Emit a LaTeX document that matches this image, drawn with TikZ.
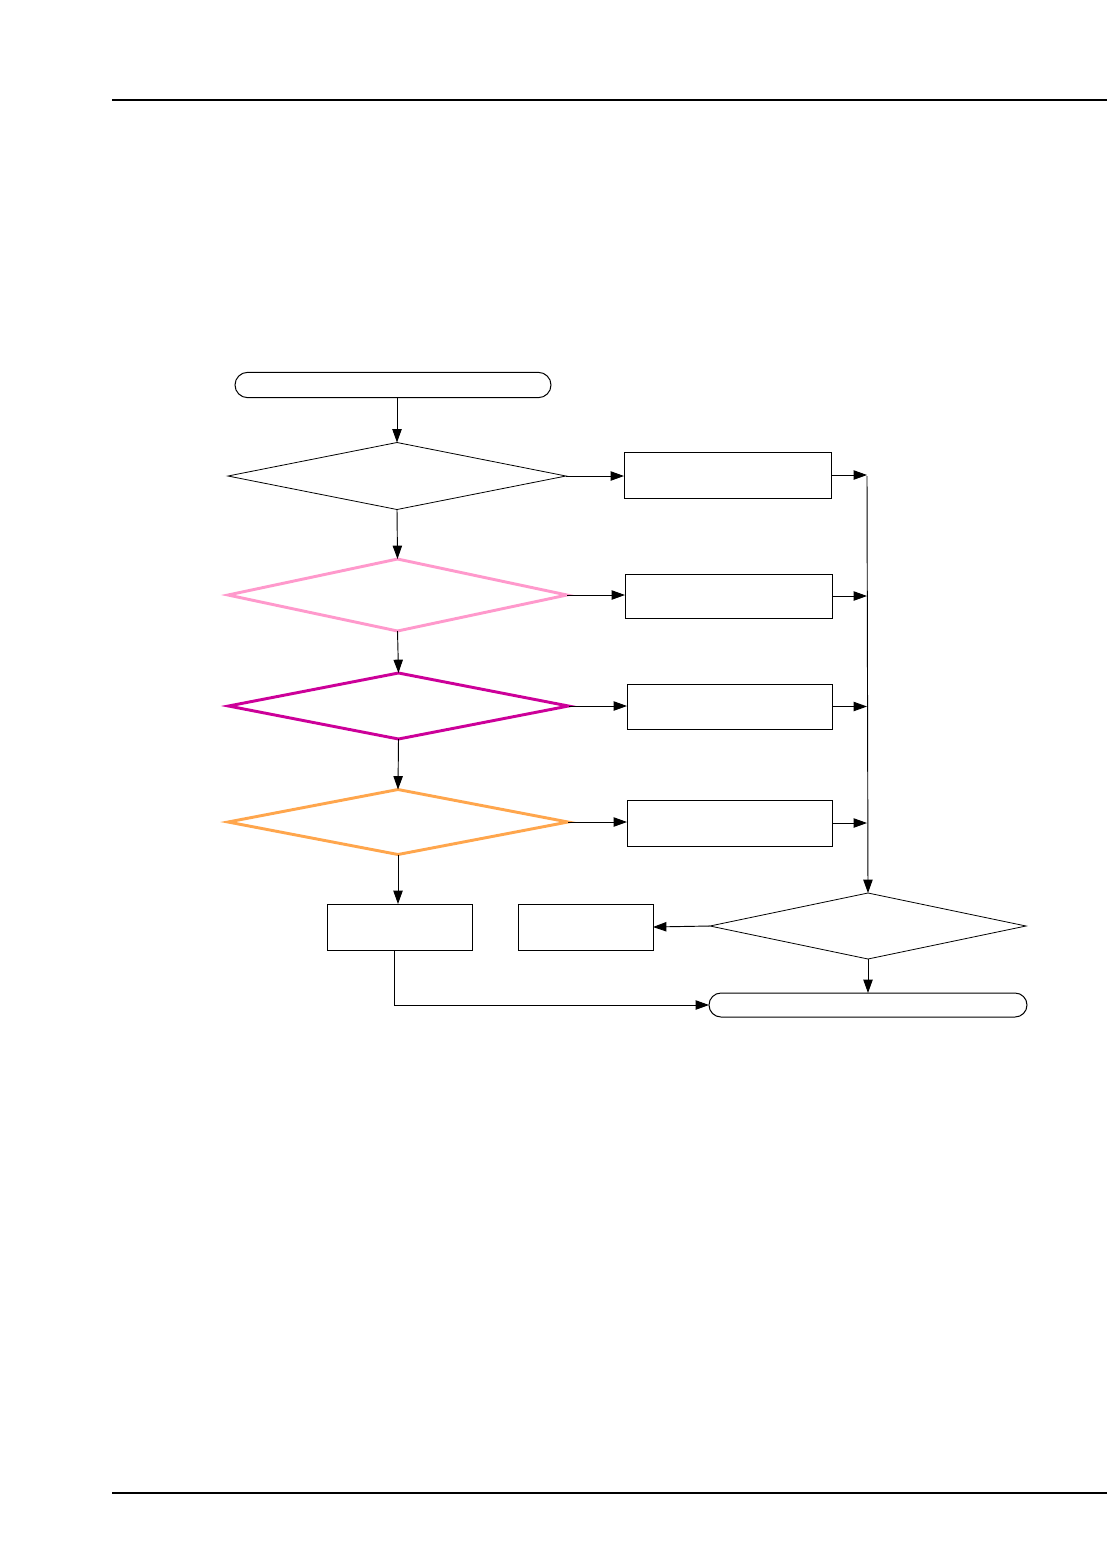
\documentclass[tikz,border=0pt]{standalone}
\usetikzlibrary{shapes.geometric,arrows.meta}
\definecolor{dpink}{HTML}{FF99CC}
\definecolor{dmag}{HTML}{CC0099}
\definecolor{dorange}{HTML}{FFA64D}
\begin{document}
\begin{tikzpicture}[x=0.75pt,y=-0.75pt,
  every node/.style={inner sep=0pt,outer sep=0pt},
  term/.style={draw,line width=0.75pt,rectangle,rounded corners=9.5pt,minimum width=#1,minimum height=19pt},
  dec/.style={draw,line width=0.6pt,diamond,aspect=5},
  cdec/.style={dec,line width=2.2pt},
  box/.style={draw,line width=0.7pt,rectangle},
  conn/.style={line width=0.7pt,-{Triangle[length=10pt,width=7pt]}},
  rule/.style={line width=1.1pt}]
\useasboundingbox (0,0) rectangle (1107,1554);
\draw[rule] (112,100) coordinate (rl1) -- (1107,100) coordinate (rr1);
\draw[rule] (112,1493) coordinate (rl2) -- (1107,1493) coordinate (rr2);

\node[term=237pt] (start) at (393,385) {};
\node[dec,minimum width=253.5pt,minimum height=50.25pt] (d1) at (397,476) {};
\node[cdec,draw=dpink,minimum width=254.25pt,minimum height=54pt] (d2) at (397.5,595) {};
\node[cdec,draw=dmag,minimum width=255pt,minimum height=49.5pt] (d3) at (398.5,706) {};
\node[cdec,draw=dorange,minimum width=255pt,minimum height=48.75pt] (d4) at (398,822) {};
\node[box,minimum width=108.75pt,minimum height=34.5pt] (b5) at (399.5,927) {};
\node[box,minimum width=101.25pt,minimum height=34.5pt] (b6) at (585.5,927) {};
\node[dec,minimum width=237pt,minimum height=49.5pt] (d5) at (868,926) {};
\node[term=238.5pt,minimum height=18pt,rounded corners=9pt] (end) at (868,1005) {};
\node[box,minimum width=155.25pt,minimum height=34.5pt] (r1) at (727.5,475) {};
\node[box,minimum width=155.25pt,minimum height=33pt] (r2) at (728.5,596) {};
\node[box,minimum width=153.75pt,minimum height=33.75pt] (r3) at (729.5,706.5) {};
\node[box,minimum width=153.75pt,minimum height=34.5pt] (r4) at (729.5,823) {};
\coordinate (bustop) at (867,476);

\draw[conn] (d1.north |- start.south) -- (d1.north);
\draw[conn] (d1.south) -- (d2.north);
\draw[conn] (d2.south) -- (d3.north);
\draw[conn] (d3.south) -- (d4.north);
\draw[conn] (d4.south) -- (d4.south |- b5.north);

\draw[conn] (d1.east) -- (d1.east -| r1.west);
\draw[conn] (d2.east) -- (d2.east -| r2.west);
\draw[conn] (d3.east) -- (d3.east -| r3.west);
\draw[conn] (d4.east) -- (d4.east -| r4.west);

\draw[conn] (r1.east) -- (r1.east -| bustop);
\draw[conn] (r2.east) -- (r2.east -| bustop);
\draw[conn] (r3.east) -- (r3.east -| bustop);
\draw[conn] (r4.east) -- (r4.east -| bustop);
\draw[conn] (bustop) -- (d5.north);

\draw[conn] (d5.west) -- (b6.east);
\draw[conn] (d5.south) -- (end.north);
\draw[conn] ([xshift=-4pt]b5.south) |- (end.west);
\end{tikzpicture}
\end{document}
